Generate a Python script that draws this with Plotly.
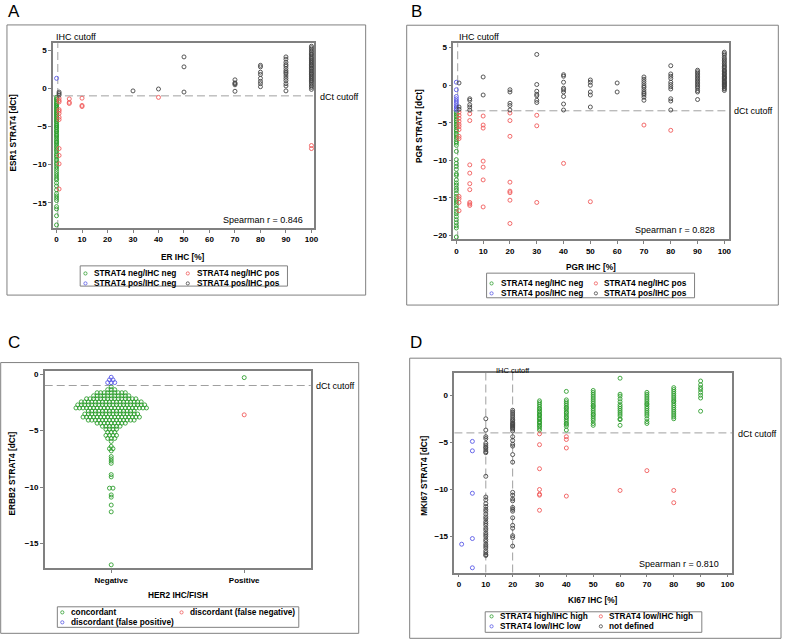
import plotly.graph_objects as go

W, H = 787, 640
FONT = "Liberation Sans"
GREEN = "#2f9e2f"
RED = "#f05a5a"
BLUE = "#5a5ae6"
BLACK = "#454545"
FRAME = "#808080"
DASHC = "#a0a0a0"

# ---------------- data ----------------
# Panel A: ER IHC [%] -> ESR1 STRAT4 dCt, grouped by IHC value
er_green = {0: [-1.2, -1.4, -1.5, -1.7, -1.9, -2.0, -2.2, -2.3, -2.5, -2.6, -2.8, -2.9, -3.1, -3.2,
                -3.4, -3.5, -3.7, -3.8, -4.0, -4.1, -4.3, -4.4, -4.6, -4.8, -4.9, -5.1, -5.2, -5.4,
                -5.6, -5.7, -5.9, -6.1, -6.2, -6.4, -6.6, -6.8, -7.0, -7.1, -7.3, -7.5, -7.7, -7.9,
                -8.1, -8.3, -8.6, -8.8, -9.0, -9.3, -9.5, -9.8, -10.0, -10.3, -10.6, -10.9, -11.2,
                -11.5, -11.8, -12.0, -12.4, -12.8, -13.3, -13.8, -14.1, -14.4, -14.7, -15.5, -15.8,
                -16.7, -17.9]}
er_red = {1: [-1.3, -1.6, -1.8, -2.8, -3.0, -3.3, -3.8, -4.1, -7.9, -8.8, -9.9, -13.2],
          5: [-1.4, -1.85, -2.0],
          10: [-1.3, -2.25, -2.4],
          40: [-1.2],
          100: [-7.5, -7.9]}
er_blue = {0: [1.3]}
er_black = {1: [-0.5, -0.7, -0.9],
            30: [-0.35],
            40: [-0.1],
            50: [4.1, 2.8, -0.5],
            70: [1.1, 0.7, 0.6, 0.45, -0.4],
            80: [3.0, 2.8, 2.1, 1.8, 1.3, 0.9, 0.6, 0.2],
            90: [4.1, 3.8, 3.4, 3.1, 2.9, 2.6, 2.3, 2.1, 1.9, 1.6, 1.3, 1.0, 0.6, 0.3, -0.35],
            100: [5.5, 5.3, 5.1, 4.9, 4.7, 4.5, 4.4, 4.2, 4.0, 3.9, 3.7, 3.6, 3.4, 3.3, 3.1, 3.0,
                  2.9, 2.7, 2.6, 2.5, 2.3, 2.2, 2.0, 1.9, 1.8, 1.6, 1.5, 1.3, 1.2, 1.0, 0.9, 0.7,
                  0.5, 0.3, 0.1, -0.15]}
er_cutoff_ihc = 0.5
er_cutoff_dct = -1.0
er_spearman = "Spearman r = 0.846"

# Panel B: PGR IHC [%] -> PGR STRAT4 dCt
pgr_green = {0: [-3.6, -3.8, -4.0, -4.2, -4.5, -4.7, -4.9, -5.2, -5.4, -5.6, -5.9, -6.1, -6.4, -6.6,
                 -6.9, -7.2, -7.5, -7.7, -8.0, -8.8, -9.9, -10.4, -10.8, -11.2, -11.8, -12.0, -12.6,
                 -13.0, -13.3, -13.7, -14.0, -14.4, -14.8, -15.1, -15.4, -15.7, -16.0, -16.4, -16.8,
                 -17.1, -17.5, -17.9, -18.3, -18.7, -19.0, -20.2]}
pgr_red = {1: [-3.6, -4.0, -4.4, -4.8, -5.2, -5.5, -5.9, -6.8, -7.1, -14.8, -15.1, -15.6, -16.7],
           5: [-3.8, -4.7, -10.6, -11.7, -13.1, -13.9, -15.6, -15.8, -16.0],
           10: [-4.1, -5.3, -5.7, -10.1, -10.9, -12.6, -16.2],
           20: [-3.7, -4.7, -6.8, -12.9, -14.1, -14.3, -15.3, -18.4],
           30: [-4.0, -5.4, -15.6],
           40: [-10.4],
           50: [-15.5],
           70: [-5.3],
           80: [-6.0]}
pgr_blue = {0: [0.4, -0.6, -1.5, -1.8, -2.1, -2.4, -2.7, -2.9, -3.1, -3.3]}
pgr_black = {1: [0.3, -2.9, -3.2],
             5: [-1.8, -2.0, -2.6, -2.9, -3.3],
             10: [1.1, -1.3],
             20: [-0.6, -0.9, -2.4, -2.7, -3.3],
             30: [4.1, 0.1, -0.8, -1.2, -1.4, -2.0, -2.3],
             40: [1.4, 1.2, 0.4, -0.4, -0.6, -0.9, -1.5, -2.5, -3.3],
             50: [0.7, 0.4, 0.0, -0.9, -1.3, -2.9],
             60: [0.3, -0.9],
             70: [1.1, 0.8, 0.5, 0.2, -0.1, -0.3, -0.6, -0.9, -1.1, -1.3, -1.6, -2.0],
             80: [2.6, 1.5, 1.2, 0.9, 0.4, 0.1, -0.2, -0.5, -1.8, -2.1, -3.3],
             90: [2.0, 1.8, 1.6, 1.4, 1.2, 1.0, 0.8, 0.6, 0.4, 0.2, 0.0, -0.2, -0.4, -0.7, -0.9, -1.9],
             100: [4.4, 4.2, 4.0, 3.7, 3.5, 3.3, 3.1, 2.9, 2.7, 2.5, 2.4, 2.2, 2.0, 1.9, 1.8, 1.6,
                   1.5, 1.4, 1.2, 1.1, 1.0, 0.9, 0.8, 0.6, 0.5, 0.4, 0.3, 0.2, 0.1, 0.0, -0.1,
                   -0.2, -0.4, -0.5, -0.7]}
pgr_cutoff_ihc = 0.5
pgr_cutoff_dct = -3.4
pgr_spearman = "Spearman r = 0.828"

# Panel C: HER2 IHC/FISH category -> ERBB2 STRAT4 dCt (binned rows of the swarm)
her2_categories = ["Negative", "Positive"]
her2_neg_green_levels = [-1.1, -1.37, -1.64, -1.91, -2.18, -2.45, -2.72, -2.99, -3.26, -3.53,
                         -3.80, -4.07, -4.34, -4.61, -4.88, -5.15, -5.42, -5.69, -5.96,
                         -6.4, -6.6, -6.8, -7.3, -7.5, -7.7, -7.9, -8.9, -9.1, -10.1, -10.7,
                         -10.9, -11.6, -12.2, -16.9]
her2_neg_green_counts = [1, 3, 9, 11, 15, 18, 20, 21, 14, 16,
                         17, 14, 9, 6, 4, 3, 4, 3, 1,
                         1, 2, 1, 1, 1, 1, 1, 1, 1, 2, 1,
                         1, 1, 1, 1]
her2_neg_blue_levels = [-0.27, -0.5, -0.74]
her2_neg_blue_counts = [1, 2, 3]
her2_pos_green = [-0.3]
her2_pos_red = [-3.6]
her2_cutoff_dct = -1.0

# Panel D: KI67 IHC [%] -> MKI67 STRAT4 dCt
ki67_blue = {1: [-15.8], 5: [-4.9, -5.9, -10.4, -15.2, -18.3]}
ki67_black = {10: [-2.5, -3.7, -4.4, -4.6, -5.1, -5.3, -5.5, -5.6, -5.8, -6.0, -6.1, -8.6, -10.8,
                   -11.1, -11.5, -11.8, -12.1, -12.3, -12.6, -12.9, -13.1, -13.4, -13.6, -13.8,
                   -14.1, -14.3, -14.6, -14.8, -15.0, -15.3, -15.5, -15.8, -16.0, -16.2, -16.5,
                   -16.7, -16.9, -17.0],
              20: [-1.6, -1.8, -2.0, -2.2, -2.4, -2.6, -2.7, -2.9, -3.0, -3.1, -3.2, -3.3, -3.4,
                   -3.5, -3.6, -3.8, -4.4, -4.8, -5.2, -5.4, -6.3, -7.1, -10.3, -10.6, -11.0,
                   -11.2, -11.9, -12.1, -12.3, -13.0, -13.8, -14.1, -14.9, -15.1, -16.0]}
ki67_green = {30: [-0.6, -0.8, -1.0, -1.2, -1.4, -1.5, -1.7, -1.8, -2.0, -2.1, -2.2, -2.4, -2.5,
                   -2.6, -2.8, -2.9, -3.0, -3.2, -3.3, -3.5, -3.7],
              40: [0.4, -0.5, -0.7, -0.9, -1.1, -1.3, -1.4, -1.6, -1.8, -1.9, -2.1, -2.3, -2.4,
                   -2.6, -2.8, -3.0, -3.1, -3.3, -3.7],
              50: [0.5, 0.3, 0.1, -0.1, -0.3, -0.5, -0.7, -0.9, -1.1, -1.2, -1.4, -1.6, -1.8,
                   -2.0, -2.1, -2.3, -2.5, -2.7, -3.0, -3.2],
              60: [1.8, 0.1, -0.1, -0.4, -0.7, -1.0, -1.2, -1.4, -1.6, -1.8, -2.0, -2.2, -2.5,
                   -2.6, -3.2],
              70: [0.3, 0.1, -0.1, -0.3, -0.5, -0.7, -0.9, -1.0, -1.2, -1.4, -1.6, -1.8, -2.0,
                   -2.2, -2.5, -2.8, -3.0],
              80: [0.8, 0.6, 0.4, 0.2, 0.0, -0.2, -0.4, -0.6, -0.7, -0.9, -1.1, -1.3, -1.5, -1.7,
                   -1.9, -2.1, -2.3, -2.5],
              90: [1.5, 1.1, 0.8, 0.6, 0.3, 0.0, -0.3, -1.7]}
ki67_red = {30: [-4.1, -5.25, -7.8, -10.0, -10.5, -10.6, -12.2],
            40: [-4.4, -4.7, -5.6, -10.7],
            60: [-10.1],
            70: [-8.0],
            80: [-10.1, -11.4]}
ki67_cutoff_ihc = [10, 20]
ki67_cutoff_dct = -4.0
ki67_spearman = "Spearman r = 0.810"

pct_ticks = [0, 10, 20, 30, 40, 50, 60, 70, 80, 90, 100]


# ---------------- helpers ----------------
def flat(d):
    xs, ys = [], []
    for k, v in d.items():
        xs += [k] * len(v)
        ys += list(v)
    return xs, ys


def swarm(center, levels, counts, dx=0.0265):
    xs, ys = [], []
    for lv, n in zip(levels, counts):
        for i in range(n):
            xs.append(center + (i - (n - 1) / 2) * dx)
            ys.append(lv)
    return xs, ys


def px(p):
    return p / W


def py(p):
    return 1 - p / H


fig = go.Figure()


def pts(xs, ys, color, ax):
    fig.add_trace(go.Scatter(
        x=xs, y=ys, mode="markers", showlegend=False, hoverinfo="skip",
        xaxis="x" + ax, yaxis="y" + ax,
        marker=dict(symbol="circle-open", size=4, color=color, line=dict(width=0.9, color=color))))


# Panel A
for d, c in [(er_green, GREEN), (er_red, RED), (er_blue, BLUE), (er_black, BLACK)]:
    pts(*flat(d), c, "")
# Panel B
for d, c in [(pgr_green, GREEN), (pgr_red, RED), (pgr_blue, BLUE), (pgr_black, BLACK)]:
    pts(*flat(d), c, "2")
# Panel C
pts(*swarm(0, her2_neg_green_levels, her2_neg_green_counts), GREEN, "3")
pts(*swarm(0, her2_neg_blue_levels, her2_neg_blue_counts), BLUE, "3")
pts([1] * len(her2_pos_green), her2_pos_green, GREEN, "3")
pts([1] * len(her2_pos_red), her2_pos_red, RED, "3")
# Panel D
for d, c in [(ki67_green, GREEN), (ki67_red, RED), (ki67_blue, BLUE), (ki67_black, BLACK)]:
    pts(*flat(d), c, "4")

tickfont = dict(family=FONT, size=8, color="black", weight="bold")


def axis(l, r, rng, tickvals, ticktext=None, horizontal=True, anchor=""):
    a = dict(domain=[px(l), px(r)] if horizontal else [py(r), py(l)],
             range=rng, tickvals=tickvals, showline=True, mirror=True,
             linecolor=FRAME, linewidth=1.5, ticks="outside", ticklen=3,
             tickcolor=FRAME, tickwidth=1, tickfont=tickfont, showgrid=False,
             zeroline=False, anchor=anchor)
    if ticktext is not None:
        a["ticktext"] = ticktext
    return a


# plot rectangles (pixels): left, top, right, bottom
RA = (53.3, 42.3, 316.0, 227.7)
RB = (456.3, 42.3, 733.3, 239.0)
RC = (45.0, 371.0, 312.7, 569.0)
RD = (457.3, 372.7, 736.7, 573.3)

fig.update_layout(
    xaxis=axis(RA[0], RA[2], [-1.4, 101], pct_ticks, anchor="y"),
    yaxis=axis(RA[1], RA[3], [-18.3, 5.9], [5, 0, -5, -10, -15], horizontal=False, anchor="x"),
    xaxis2=axis(RB[0], RB[2], [-1.1, 101.6], pct_ticks, anchor="y2"),
    yaxis2=axis(RB[1], RB[3], [-20.5, 5.6], [5, 0, -5, -10, -15, -20], horizontal=False, anchor="x2"),
    xaxis3=axis(RC[0], RC[2], [-0.5, 1.5], [0, 1], ticktext=her2_categories, anchor="y3"),
    yaxis3=axis(RC[1], RC[3], [-17.2, 0.3], [0, -5, -10, -15], horizontal=False, anchor="x3"),
    xaxis4=axis(RD[0], RD[2], [-1.7, 101.7], pct_ticks, anchor="y4"),
    yaxis4=axis(RD[1], RD[3], [-18.8, 2.4], [0, -5, -10, -15], horizontal=False, anchor="x4"),
)

shapes = []
anns = []


def rect(l, t, r, b, width=1):
    shapes.append(dict(type="rect", xref="paper", yref="paper", x0=px(l), x1=px(r),
                       y0=py(b), y1=py(t), line=dict(color=FRAME, width=width)))


def hline(ax, y):
    shapes.append(dict(type="line", xref="x%s domain" % ax, yref="y" + ax, x0=0, x1=1,
                       y0=y, y1=y, layer="below", line=dict(color=DASHC, width=1, dash="8px,4px")))


def vline(ax, x):
    shapes.append(dict(type="line", xref="x" + ax, yref="y%s domain" % ax, x0=x, x1=x,
                       y0=0, y1=1, layer="below", line=dict(color=DASHC, width=1, dash="8px,4px")))


def text(t, x, y, size=9, bold=False, xanchor="left", angle=0):
    f = dict(family=FONT, size=size, color="black")
    if bold:
        f["weight"] = "bold"
    anns.append(dict(text=t, x=px(x), y=py(y), xref="paper", yref="paper", showarrow=False,
                     xanchor=xanchor, yanchor="middle", font=f, textangle=angle))


def legend(box, cols, rows, items):
    rect(*box)
    for (ci, ri, color, label) in items:
        mx = cols[ci][0]
        my = rows[ri]
        shapes.append(dict(type="circle", xref="paper", yref="paper", xsizemode="pixel",
                           ysizemode="pixel", xanchor=px(mx), yanchor=py(my),
                           x0=-1.6, x1=1.6, y0=-1.6, y1=1.6, line=dict(color=color, width=0.8)))
        text(label, cols[ci][1], my, size=8.3, bold=True)


# outer panel frames
rect(7, 24, 368, 295)
rect(409.3, 24.3, 783.3, 305)
rect(0.7, 362.7, 361, 634.3)
rect(412.3, 358.3, 786, 639.3)

# cutoff lines
hline("", er_cutoff_dct)
vline("", er_cutoff_ihc)
hline("2", pgr_cutoff_dct)
vline("2", pgr_cutoff_ihc)
hline("3", her2_cutoff_dct)
hline("4", ki67_cutoff_dct)
for v in ki67_cutoff_ihc:
    vline("4", v)

# panel letters
text("A", 6, 11, size=17)
text("B", 412, 11, size=17)
text("C", 6, 343, size=17)
text("D", 411, 343, size=17)

# axis titles
text("ER IHC [%]", 184.6, 257, size=8.3, bold=True, xanchor="center")
text("ESR1 STRAT4 [dCt]", 13, 132, size=8.3, bold=True, xanchor="center", angle=-90)
text("PGR IHC [%]", 594.8, 266.7, size=8.3, bold=True, xanchor="center")
text("PGR STRAT4 [dCt]", 421, 125, size=8.3, bold=True, xanchor="center", angle=-90)
text("HER2 IHC/FISH", 178.8, 596, size=8.3, bold=True, xanchor="center")
text("ERBB2 STRAT4 [dCt]", 12, 474, size=8.3, bold=True, xanchor="center", angle=-90)
text("KI67 IHC [%]", 597, 601, size=8.3, bold=True, xanchor="center")
text("MKI67 STRAT4 [dCt]", 426, 476, size=8.3, bold=True, xanchor="center", angle=-90)

# cutoff labels and statistics
text("IHC cutoff", 54, 36, size=9)
text("dCt cutoff", 320, 96, size=9)
text(er_spearman, 307, 220, size=9, xanchor="right")
text("IHC cutoff", 460, 36, size=9)
text("dCt cutoff", 737, 110, size=9)
text(pgr_spearman, 722, 230, size=9, xanchor="right")
text("dCt cutoff", 316, 386, size=9)
text("IHC cutoff", 516.3, 370.5, size=7.5, xanchor="center")
text("dCt cutoff", 740.5, 434, size=9)
text(ki67_spearman, 725.7, 565, size=9, xanchor="right")

# legends
legend((80.7, 265.7, 289.3, 286), [(86, 92.7), (189, 196)], [273.3, 283.3],
       [(0, 0, GREEN, "STRAT4 neg/IHC neg"), (1, 0, RED, "STRAT4 neg/IHC pos"),
        (0, 1, BLUE, "STRAT4 pos/IHC neg"), (1, 1, BLACK, "STRAT4 pos/IHC pos")])
legend((489.7, 273, 699, 297.7), [(494.7, 501.7), (599.7, 606)], [283.3, 293.3],
       [(0, 0, GREEN, "STRAT4 neg/IHC neg"), (1, 0, RED, "STRAT4 neg/IHC pos"),
        (0, 1, BLUE, "STRAT4 pos/IHC neg"), (1, 1, BLACK, "STRAT4 pos/IHC pos")])
legend((57.7, 607.7, 300.7, 628.3), [(62.7, 69), (182.7, 189)], [613.3, 623.3],
       [(0, 0, GREEN, "concordant"), (1, 0, RED, "discordant (false negative)"),
        (0, 1, BLUE, "discordant (false positive)")])
legend((488.3, 612.7, 706.3, 633.3), [(494.7, 500.7), (604.7, 611)], [617.3, 627.3],
       [(0, 0, GREEN, "STRAT4 high/IHC high"), (1, 0, RED, "STRAT4 low/IHC high"),
        (0, 1, BLUE, "STRAT4 low/IHC low"), (1, 1, BLACK, "not defined")])

fig.update_layout(
    width=W, height=H, margin=dict(l=0, r=0, t=0, b=0),
    paper_bgcolor="white", plot_bgcolor="white",
    font=dict(family=FONT, size=9, color="black"),
    shapes=shapes, annotations=anns, showlegend=False,
)

fig.write_html("out.html")
